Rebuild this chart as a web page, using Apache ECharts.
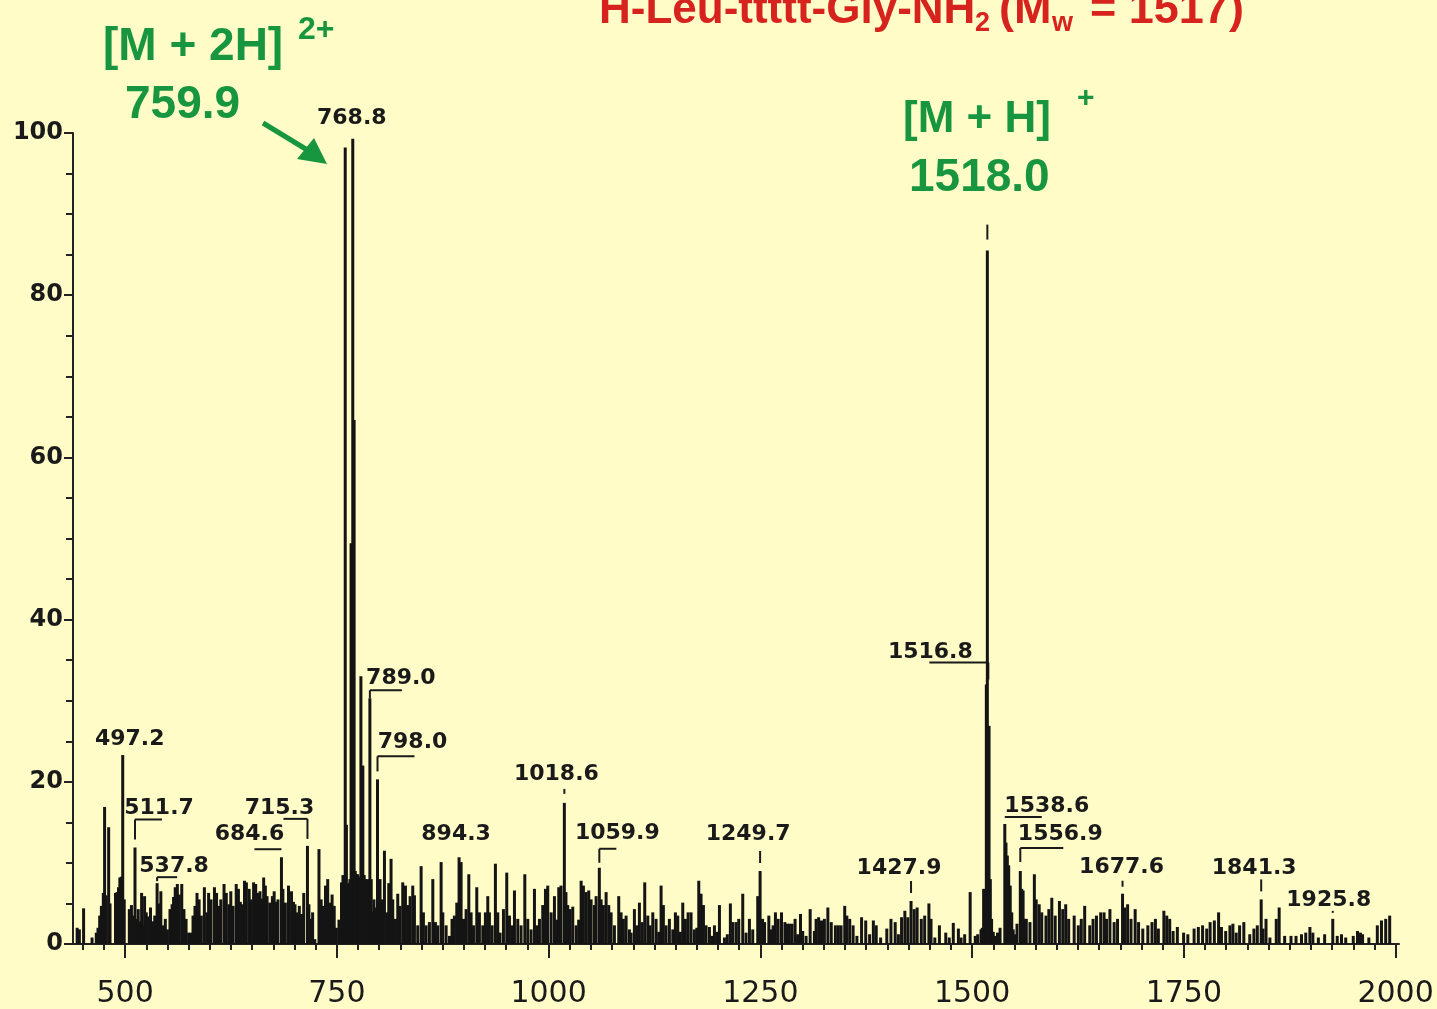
<!DOCTYPE html>
<html><head><meta charset="utf-8">
<script src="https://cdn.jsdelivr.net/npm/echarts@6/dist/echarts.min.js"></script>
<style>html,body{margin:0;padding:0;background:#FFFCC8;}#chart{width:1437px;height:1009px;}</style>
</head><body><div id="chart"></div>
<script>
// ---- spectrum sticks: [m/z, relative intensity %] ----
const peaks440to560 = [
[443.4,2.0],[446,1.8],[451,4.4],[461,0.8],[466,1.4],[468,2.0],[470,3.5],[472,4.7],[474.3,6.3],[475.8,16.9],[477.6,6.0],[480.6,14.4],[482.2,5.0],
[488.7,6.3],[490.5,6.4],[492.2,7.0],[493.8,8.2],[495.5,8.3],[497.2,23.3],[499,5.5],
[505,4.3],[507.5,4.8],[509.2,3.5],[511.7,11.9],[513.3,3.1],[515.5,4.3],[517.5,2.8],[519.5,6.3],[521.5,2.3],[523,5.9],[525,3.9],[527.5,3.4],[530,4.5],[532.5,2.8],[535,3.5],[537.8,7.5],[540,5.0],[542.2,6.5],[544.8,2.3],[547.5,3.1],[550,1.8],[553,4.3],[555.5,4.9],[557.2,5.8],[559.2,7.0]
];
const peaks560to755 = [
[561.7,7.4],[564,6.1],[566.9,7.4],[569.5,4.3],[572,3.1],[575,1.4],[578,1.4],[580.2,3.5],[582.5,4.7],[584.9,6.3],[587.4,5.5],[590,3.5],[593.6,7.0],[596.5,3.9],[598.6,6.3],[601.5,5.5],[605.5,7.0],[608,6.3],[610.5,4.7],[613,5.5],[616.8,7.4],[619.5,6.3],[622.5,4.9],[624.8,6.5],[627.5,4.7],[631.2,7.4],[633.8,6.8],[636,5.2],[638.2,4.9],[641,7.8],[643.2,7.6],[646.5,6.8],[649,5.5],[651.7,7.6],[654.2,7.4],[656.8,6.3],[659.3,6.5],[661.5,5.6],[663.6,8.2],[665.6,7.2],[667.6,5.9],[670.8,5.1],[673.9,5.9],[676,6.5],[678.2,5.2],[680.5,5.5],
[684.6,10.7],[686.3,6.8],[689.2,5.1],[692.9,7.2],[696.5,6.5],[698.8,5.2],[700.6,4.9],[703.2,3.9],[705.7,4.7],[708.3,3.7],[710.9,6.3],[715.3,12.1],[717,4.9],[719,3.1],[721.4,3.9],[724,0.6],[728.9,11.7],[731.5,5.5],[734,4.7],[736.6,7.2],[739.2,8.0],[741.8,5.1],[744.4,6.1],[746.9,4.7],[749.5,2.0],[752.5,3.0]
];
const peaks755to800 = [
[755.5,7.6],[757.2,8.5],[759.9,98.2],[761.3,14.7],[762.8,7.5],[764.2,6.5],[765.4,8.0],[766.8,49.4],[768.8,99.3],[770.4,64.6],[771.8,9.0],[773.2,8.6],[774.6,8.6],[776.2,8.3],[778.4,33.0],[780.7,22.0],[782.3,8.5],[783.8,8.0],[785.3,7.8],[786.8,8.0],[789.0,30.3],[790.6,8.0],[792.2,4.0],[793.8,5.5],[795.3,4.5],[798.0,20.3],[799.6,4.5]
];
const peaks800to1000 = [
[801,8.0],[803.4,5.5],[806.2,11.5],[808.9,3.9],[811.3,7.5],[814,10.5],[816,5.5],[819.2,3.1],[821.9,6.2],[824.5,4.7],[827.8,7.6],[829.8,7.0],[831,7.2],[833.7,4.8],[836.5,5.9],[839.6,7.2],[841.6,6.0],[845.5,2.3],[849.5,9.6],[852.2,3.9],[855.4,2.3],[859.3,2.7],[863.3,8.0],[866.4,2.7],[869.2,2.3],[873.1,10.1],[875.1,3.9],[879,2.3],[883,1.0],[886,3.1],[888.8,3.5],[891.6,5.1],[894.3,10.7],[896.7,10.1],[899.5,3.1],[902.6,4.3],[905.8,8.6],[908.5,3.9],[911.3,2.3],[915.2,7.0],[918.3,3.9],[922.3,2.3],[925.4,3.9],[928.2,5.9],[930.1,3.9],[933.3,2.3],[937.2,9.9],[940,3.9],[942.7,1.4],[946.7,4.3],[950.6,8.8],[953.8,3.5],[956.9,2.3],[959.7,6.6],[963.6,3.1],[967.5,2.3],[971.9,8.6],[975.4,3.1],[979.3,1.8],[983.3,6.8],[986,2.3],[989.2,3.1],[993.1,4.8],[996.3,6.8],[999,7.2]
];
const peaks1000to1249 = [
[1003,3.9],[1006.9,5.9],[1009.5,3.0],[1012,7.0],[1014.7,7.2],[1018.6,17.4],[1020.5,6.4],[1022.6,4.8],[1025.4,4.3],[1028.5,4.6],[1032.5,2.3],[1035.5,3.0],[1038.4,7.8],[1041.1,7.2],[1044.3,6.4],[1047.4,6.6],[1050.2,5.5],[1054.1,4.8],[1056.1,5.9],[1059.9,9.4],[1062,5.5],[1064.7,4.8],[1067.9,6.4],[1071,4.8],[1073.8,3.9],[1077.7,2.3],[1082.8,5.9],[1085.6,3.9],[1088.3,3.1],[1091.5,3.5],[1095.4,1.8],[1097.4,1.4],[1101.3,4.3],[1104.1,2.3],[1107.2,5.1],[1110.4,2.7],[1113.5,7.6],[1117.1,3.5],[1119.8,2.3],[1123,3.9],[1126.9,3.1],[1130,1.5],[1132.8,7.2],[1135.5,4.8],[1138.7,2.3],[1142.6,3.1],[1146.6,1.8],[1149.7,3.9],[1152.5,3.5],[1155.5,1.5],[1158.4,5.1],[1161.5,3.1],[1164.7,3.9],[1168.2,3.9],[1172.1,1.8],[1175,2.0],[1177.3,7.8],[1180,6.2],[1182.8,4.8],[1185.9,2.3],[1189.9,2.1],[1193,1.0],[1195.8,2.3],[1199,1.5],[1201.7,4.8],[1207.6,0.8],[1211,1.2],[1214.6,5.0],[1217.4,2.7],[1221.3,2.7],[1224.5,3.1],[1229.2,6.2],[1233.1,1.4],[1237.1,3.1],[1241,1.8],[1246.9,5.9]
];
const peaks1249to1505 = [
[1249.7,9.0],[1252.6,3.1],[1255,2.7],[1260,3.5],[1262.7,1.8],[1265.1,2.3],[1267.8,3.9],[1271,3.1],[1275,3.9],[1279,2.7],[1282,2.5],[1284.3,2.5],[1287.4,2.5],[1291,3.1],[1294,1.2],[1297.4,3.7],[1300,1.6],[1304,1.0],[1308.8,4.3],[1313.8,1.6],[1315.8,3.1],[1318.8,3.3],[1322.2,2.9],[1325.6,3.1],[1329.7,4.5],[1333.7,2.7],[1338.6,2.3],[1342.1,2.3],[1345.3,2.3],[1349.6,4.7],[1352.1,3.5],[1355.5,3.1],[1359.5,2.3],[1364,1.0],[1369.5,3.3],[1374.4,2.9],[1379,1.2],[1383.4,2.9],[1386.8,2.3],[1392,0.8],[1399.3,1.9],[1404.2,3.1],[1409.2,2.7],[1413,1.2],[1416.7,3.3],[1420.6,4.1],[1424.1,3.3],[1427.9,5.3],[1431.6,4.3],[1435.1,4.5],[1440,3.1],[1444,3.5],[1449,5.0],[1451.5,3.1],[1456,0.8],[1461.4,2.3],[1468.9,1.4],[1473,0.8],[1477.8,2.6],[1483.8,1.9],[1487,0.8],[1491.2,1.2],[1497.7,6.4],[1503.7,1.0]
];
const peaks1505to1625 = [
[1506.6,1.2],[1510.5,1.8],[1512,2.0],[1513.6,6.8],[1516.8,32.0],[1518.0,85.5],[1520.0,26.9],[1521.5,8.0],[1523,3.1],[1525,1.5],[1527.5,1.0],[1530,1.4],[1533,2.0],
[1538.6,14.8],[1540,12.5],[1541.6,10.9],[1543.2,9.7],[1545,7.2],[1546.8,3.9],[1548.5,1.8],[1551,1.2],[1553,2.5],[1556.9,9.0],[1558.6,6.8],[1560.2,6.6],[1562,3.1],[1564,3.1],[1568.3,2.7],[1573.5,8.6],[1575.7,5.5],[1579.2,4.9],[1582.2,3.9],[1587.2,3.5],[1590.6,4.3],[1594.1,5.7],[1598.1,3.5],[1603.1,5.3],[1607,4.3],[1610.5,4.9],[1614,3.1],[1620.5,3.5]
];
const peaks1625to2005 = [
[1625.4,2.3],[1628.9,3.1],[1632.9,4.7],[1638.9,2.3],[1642.8,3.1],[1646.8,3.5],[1651.8,3.9],[1655.8,3.9],[1658.7,3.1],[1662.7,4.3],[1667.7,2.7],[1671.7,3.1],[1677.6,6.2],[1680.1,4.5],[1683.6,4.9],[1687.6,3.1],[1692.5,4.3],[1696.5,2.7],[1701.5,1.9],[1707.5,2.3],[1712.4,2.7],[1716.4,3.1],[1719.9,1.9],[1726.4,4.1],[1729.8,3.5],[1733.3,3.1],[1737.3,1.6],[1742.3,2.1],[1749.7,1.4],[1754.7,1.2],[1762.1,1.9],[1767.1,2.1],[1772.1,2.3],[1777,1.9],[1781,2.7],[1786,2.9],[1791,3.9],[1794.4,2.1],[1799.4,1.6],[1804.4,2.3],[1807.9,2.5],[1811.8,1.4],[1815.8,2.3],[1820.8,2.7],[1827.8,1.2],[1832.7,1.9],[1836.7,2.3],[1841.3,5.5],[1843.5,1.9],[1847,3.1],[1851.6,0.8],[1859.1,3.1],[1862.5,4.5],[1869,1.0],[1876.5,1.0],[1882.4,1.0],[1888.9,1.2],[1893.9,1.4],[1898.8,2.1],[1902.3,1.4],[1908.8,0.8],[1916.2,1.2],[1925.8,3.1],[1931.1,1.0],[1936.1,1.2],[1941.1,0.8],[1950,1.0],[1955,1.6],[1958.5,1.4],[1961,1.2],[1968.4,0.8],[1978.4,2.3],[1983.3,2.9],[1988.3,3.1],[1993,3.5]
];

// ---- labelled peaks (m/z shown as text) ----
const labelledMz = [497.2, 511.7, 537.8, 684.6, 715.3, 768.8, 789.0, 798.0, 894.3, 1018.6, 1059.9, 1249.7, 1427.9, 1516.8, 1538.6, 1556.9, 1677.6, 1841.3, 1925.8, 1518.0];
const labelText = ['497.2','511.7','537.8','684.6','715.3','768.8','789.0','798.0','894.3','1018.6','1059.9','1249.7','1427.9','1516.8','1538.6','1556.9','1677.6','1841.3','1925.8',''];

// ---- axis ticks ----
const xMajorTicks = [500, 750, 1000, 1250, 1500, 1750, 2000];
const yTickLabels = [0, 20, 40, 60, 80, 100];

// ---- label layout (pixel offsets from the peak top; presentation only) ----
const labelLayout = [
 {dx:7, dy:-16, segs:[]},
 {dx:24, dy:-39, segs:[[0,-8,0,-28],[0,-28,27,-28]]},
 {dx:17, dy:-17, segs:[[0,-6,20,-6],[0,-6,0,-2]]},
 {dx:-32, dy:-23, segs:[[-27,-8,0,-8]]},
 {dx:-28, dy:-38, segs:[[-24,-27,0,-27],[0,-27,0,-7]]},
 {dx:-1, dy:-20, segs:[]},
 {dx:31, dy:-20, segs:[[0,0,0,-8],[0,-8,32,-8]]},
 {dx:35, dy:-37, segs:[[0,-8,0,-23],[0,-23,37,-23]]},
 {dx:-3, dy:-23, segs:[]},
 {dx:-8, dy:-29, segs:[[0,-14,0,-9]]},
 {dx:18, dy:-34, segs:[[0,-19,17,-19],[0,-19,0,-5]]},
 {dx:-12, dy:-37, segs:[[0,-20,0,-8]]},
 {dx:-12, dy:-33, segs:[[0,-20,0,-8]]},
 {dx:-56, dy:-32, segs:[[-57,-22,2,-22],[2,-22,2,-5]]},
 {dx:42, dy:-18, segs:[[0,-7,37,-7]]},
 {dx:40, dy:-37, segs:[[0,-23,43,-23],[0,-23,0,-9]]},
 {dx:-1, dy:-26, segs:[[0,-13,0,-7]]},
 {dx:-7, dy:-31, segs:[[0,-20,0,-8]]},
 {dx:-4, dy:-19, segs:[[0,-8,0,-6]]},
 {dx:0, dy:0, segs:[[0,-26,0,-11]]}
];

const allPeaks = [].concat(peaks440to560, peaks560to755, peaks755to800, peaks800to1000,
  peaks1000to1249, peaks1249to1505, peaks1505to1625, peaks1625to2005);
const intensityOf = mz => { const p = allPeaks.find(q => Math.abs(q[0] - mz) < 1e-6); return p ? p[1] : 0; };
const labelData = labelledMz.map(mz => [mz, intensityOf(mz)]);

const xMinorTicks = [];
for (let v = 450; v <= 2000; v += 25) if (xMajorTicks.indexOf(v) < 0) xMinorTicks.push(v);

const INK = '#1a1a1a';
const GREEN = '#17963F';
const RED = '#D7231E';
const BG = '#FFFCC8';
const X_MIN = 438.5, X_MAX = 2004;

const chart = echarts.init(document.getElementById('chart'), null, {renderer: 'canvas'});
const tickStyle = {color: '#222', width: 2};
chart.setOption({
  backgroundColor: BG,
  animation: false,
  grid: {left: 73, right: 38, top: 133, bottom: 64, containLabel: false},
  xAxis: [
    {type: 'value', min: X_MIN, max: X_MAX, position: 'bottom',
     axisLine: {show: true, onZero: false, lineStyle: tickStyle},
     splitLine: {show: false},
     axisTick: {show: true, customValues: xMajorTicks, length: 14, lineStyle: tickStyle},
     axisLabel: {show: true, customValues: xMajorTicks, margin: 35, fontFamily: 'DejaVu Sans', fontSize: 30, color: INK,
       formatter: v => String(v)}},
    {type: 'value', min: X_MIN, max: X_MAX, position: 'bottom',
     axisLine: {show: false}, splitLine: {show: false},
     axisTick: {show: true, customValues: xMinorTicks, length: 6, lineStyle: tickStyle},
     axisLabel: {show: false}}
  ],
  yAxis: {type: 'value', min: 0, max: 100, interval: 20,
    axisLine: {show: true, lineStyle: tickStyle},
    splitLine: {show: false},
    axisTick: {show: true, length: 9, lineStyle: tickStyle},
    minorTick: {show: true, splitNumber: 4, length: 7, lineStyle: tickStyle},
    axisLabel: {margin: 10, fontFamily: 'DejaVu Sans', fontWeight: 'bold', fontSize: 24, color: INK,
      formatter: v => (yTickLabels.indexOf(v) >= 0 ? String(v) : '')}
  },
  series: [
    {type: 'bar', name: 'spectrum', xAxisIndex: 0, data: allPeaks, barWidth: 3, large: false,
     itemStyle: {color: '#141414'}, silent: true},
    {type: 'custom', name: 'labels', xAxisIndex: 0, clip: false, silent: true, data: labelData,
     renderItem: function (params, api) {
       const i = params.dataIndex;
       const p = api.coord([api.value(0), api.value(1)]);
       const lay = labelLayout[i];
       const children = lay.segs.map(s => ({type: 'line',
         shape: {x1: p[0] + s[0], y1: p[1] + s[1], x2: p[0] + s[2], y2: p[1] + s[3]},
         style: {stroke: INK, lineWidth: 2}}));
       if (labelText[i]) children.push({type: 'text', x: p[0] + lay.dx, y: p[1] + lay.dy,
         style: {text: labelText[i], fontFamily: 'DejaVu Sans', fontWeight: 'bold', fontSize: 22,
                 fill: INK, align: 'center', verticalAlign: 'middle'}});
       return {type: 'group', children: children};
     }}
  ],
  graphic: [
    {type: 'text', x: 599, y: 11, style: {text: 'H-Leu-ttttt-Gly-NH', fontFamily: 'Liberation Sans', fontWeight: 'bold', fontSize: 44, fill: RED, align: 'left', verticalAlign: 'middle'}},
    {type: 'text', x: 975, y: 24, style: {text: '2', fontFamily: 'Liberation Sans', fontWeight: 'bold', fontSize: 27, fill: RED, align: 'left', verticalAlign: 'middle'}},
    {type: 'text', x: 999, y: 11, style: {text: '(M', fontFamily: 'Liberation Sans', fontWeight: 'bold', fontSize: 45, fill: RED, align: 'left', verticalAlign: 'middle'}},
    {type: 'text', x: 1052, y: 24, style: {text: 'w', fontFamily: 'Liberation Sans', fontWeight: 'bold', fontSize: 27, fill: RED, align: 'left', verticalAlign: 'middle'}},
    {type: 'text', x: 1090, y: 11, style: {text: '= 1517)', fontFamily: 'Liberation Sans', fontWeight: 'bold', fontSize: 45, fill: RED, align: 'left', verticalAlign: 'middle'}},

    {type: 'text', x: 103, y: 47, style: {text: '[M + 2H]', fontFamily: 'Liberation Sans', fontWeight: 'bold', fontSize: 46, fill: GREEN, align: 'left', verticalAlign: 'middle'}},
    {type: 'text', x: 298, y: 30, style: {text: '2+', fontFamily: 'Liberation Sans', fontWeight: 'bold', fontSize: 32, fill: GREEN, align: 'left', verticalAlign: 'middle'}},
    {type: 'text', x: 125, y: 105, style: {text: '759.9', fontFamily: 'Liberation Sans', fontWeight: 'bold', fontSize: 46, fill: GREEN, align: 'left', verticalAlign: 'middle'}},
    {type: 'line', shape: {x1: 263, y1: 123, x2: 309, y2: 151}, style: {stroke: GREEN, lineWidth: 5}},
    {type: 'polygon', shape: {points: [[327, 164], [297, 159], [314, 138]]}, style: {fill: GREEN}},

    {type: 'text', x: 903, y: 120, style: {text: '[M + H]', fontFamily: 'Liberation Sans', fontWeight: 'bold', fontSize: 44, fill: GREEN, align: 'left', verticalAlign: 'middle'}},
    {type: 'text', x: 1077, y: 99, style: {text: '+', fontFamily: 'Liberation Sans', fontWeight: 'bold', fontSize: 30, fill: GREEN, align: 'left', verticalAlign: 'middle'}},
    {type: 'text', x: 909, y: 178, style: {text: '1518.0', fontFamily: 'Liberation Sans', fontWeight: 'bold', fontSize: 46, fill: GREEN, align: 'left', verticalAlign: 'middle'}}
  ]
});
</script></body></html>
